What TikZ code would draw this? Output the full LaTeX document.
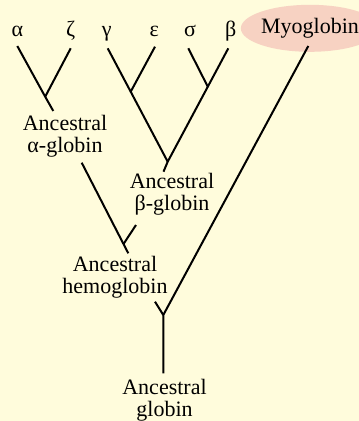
\documentclass[tikz,border=0pt]{standalone}
\usepackage{fontspec}
\setmainfont{Liberation Serif}
\newfontfamily\treefont{Liberation Serif}
\usetikzlibrary{shapes.geometric}
\definecolor{paper}{RGB}{255,252,220}
\definecolor{myopink}{RGB}{247,210,194}

\begin{document}
\begin{tikzpicture}[
  x=1pt,y=-1pt,
  font=\treefont\fontsize{22}{22.5}\selectfont,
  gene/.style={anchor=base,inner sep=0pt},
  ancestor/.style={anchor=north,align=center,inner sep=0pt},
  branch/.style={line width=2pt,black}
]
\fill[paper] (0,0) rectangle (359,421);
\useasboundingbox (0,0) rectangle (359,421);
\clip (0,0) rectangle (359,421);

% Present-day genes.
\node[gene] (alpha) at (17.3,36.7) {α};
\node[gene] (zeta) at (70.7,36.7) {ζ};
\node[gene] (gamma) at (106.7,36.7) {γ};
\node[gene] (eps) at (154.3,36.7) {ε};
\node[gene] (sigma) at (190,36.7) {σ};
\node[gene] (beta) at (230.7,36.7) {β};
\node[ellipse,fill=myopink,minimum width=124pt,minimum height=47pt,inner sep=0pt] (myo) at (310,28.3) {Myoglobin};

% Ancestors.
\node[ancestor] (aglob) at (65,115) {Ancestral\\α-globin};
\node[ancestor] (bglob) at (172,172.7) {Ancestral\\β-globin};
\node[ancestor] (hglob) at (115,255.7) {Ancestral\\hemoglobin};
\node[ancestor] (glob) at (164.5,379) {Ancestral\\globin};

% Branch ends and junctions.
\coordinate (tA) at (17.3,46);
\coordinate (tZ) at (70.7,48.3);
\coordinate (jAZ) at (45.2,96.7);
\coordinate (eA) at (53.3,111);
\coordinate (tG) at (107.7,48.3);
\coordinate (tE) at (155,46.7);
\coordinate (jGE) at (130.7,91.7);
\coordinate (tS) at (188.3,48.3);
\coordinate (tB) at (228.3,48.3);
\coordinate (jSB) at (207.8,86.7);
\coordinate (jGB) at (167.7,161.7);
\coordinate (eB) at (163.5,171.7);
\coordinate (tAg) at (81.7,162.7);
\coordinate (tBg) at (136,225);
\coordinate (jH) at (123.5,244);
\coordinate (eH) at (128.3,253.3);
\coordinate (tM) at (308.3,46);
\coordinate (tH) at (155,301.7);
\coordinate (jM) at (163.3,315);
\coordinate (eM) at (163.3,373.3);

% alpha branch
\draw[branch] (tA) -- (jAZ) -- (eA);
\draw[branch] (tZ) -- (jAZ);
% beta branch
\draw[branch] (tG) -- (jGE) -- (jGB);
\draw[branch] (tE) -- (jGE);
\draw[branch] (tB) -- (jSB) -- (jGB) -- (eB);
\draw[branch] (tS) -- (jSB);
% hemoglobin
\draw[branch] (tAg) -- (jH) -- (eH);
\draw[branch] (tBg) -- (jH);
% globin
\draw[branch] (tM) -- (jM) -- (eM);
\draw[branch] (tH) -- (jM);
\end{tikzpicture}
\end{document}
